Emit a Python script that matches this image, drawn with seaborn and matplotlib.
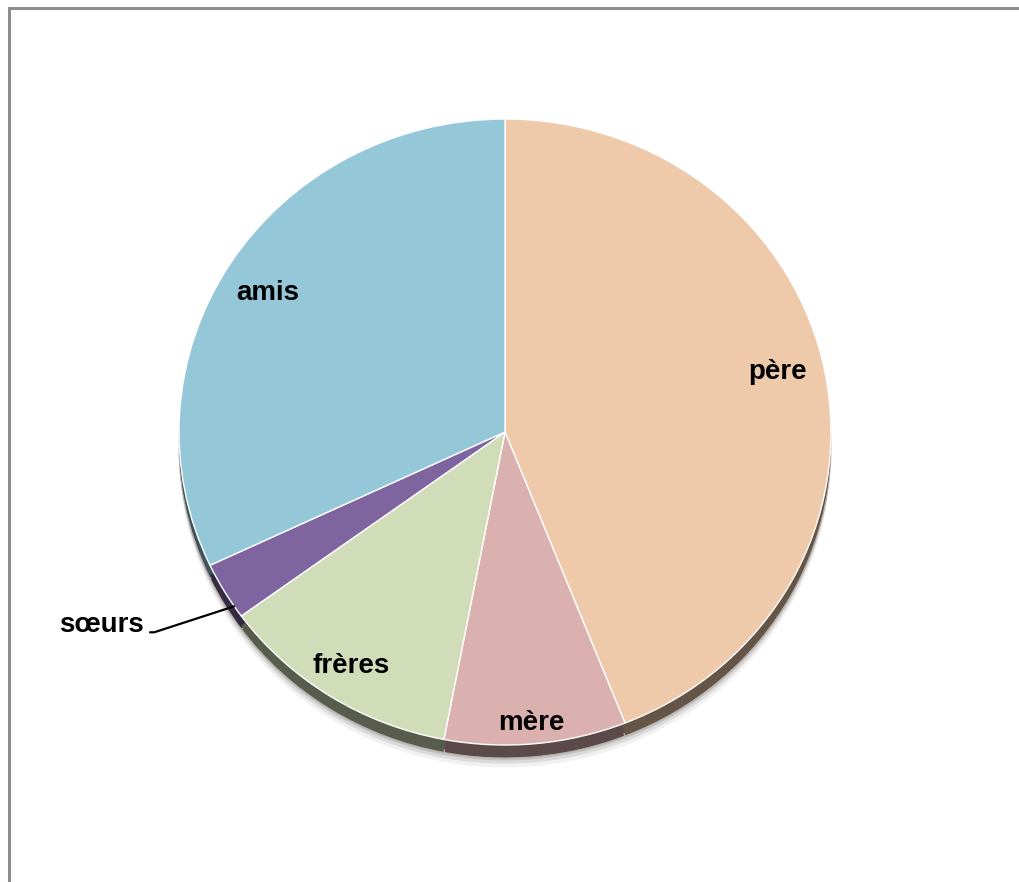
import numpy as np
import matplotlib
matplotlib.use("Agg")
import matplotlib.pyplot as plt
from matplotlib.patches import Rectangle
from matplotlib.colors import to_rgb
import seaborn as sns

# Share of each group (percent)
categories = ["père", "mère", "frères", "sœurs", "amis"]
values = [44, 9, 12, 3, 32]

slice_colors = ["#EECAAA", "#DBB1B0", "#D1DCB8", "#7F65A0", "#94C7D8"]
label_radius = [0.86, 0.93, 0.88, None, 0.85]
label_shift = [(-3, 10), (-2, -1), (0, -1), (0, 0), (-3, -4)]  # pixels

sns.set_theme(style="white")
plt.rcParams["font.family"] = ["Liberation Sans", "DejaVu Sans"]

W, H = 1019, 882
fig = plt.figure(figsize=(W / 100, H / 100), dpi=100)
ax = fig.add_axes([0, 0, 1, 1])

# pixel geometry of the pie face
cx, cy = 505, 432
rx, ry = 326, 313
depth = 13 / ry

def shade(c, f):
    r, g, b = to_rgb(c)
    return (r * f, g * f, b * f)

pie_kw = dict(startangle=90, counterclock=False, radius=1.0)

# soft drop shadow
for off, a in [(depth + 0.030, 0.10), (depth + 0.018, 0.18), (depth + 0.008, 0.25)]:
    ax.pie(values, colors=["#7a7a7a"] * len(values), center=(0, -off),
           wedgeprops=dict(linewidth=0, alpha=a), **pie_kw)

# side wall of the disc
ax.pie(values, colors=[shade(c, 0.42) for c in slice_colors],
       center=(0, -depth),
       wedgeprops=dict(linewidth=0.8, edgecolor="#b8b0a8"), **pie_kw)
for k in range(3):
    ax.pie(values, colors=[shade(c, 0.42) for c in slice_colors],
           center=(0, -depth * (k + 1) / 4),
           wedgeprops=dict(linewidth=0), **pie_kw)

# top face
wedges, _ = ax.pie(values, colors=slice_colors,
                   wedgeprops=dict(linewidth=1.0, edgecolor="white"), **pie_kw)

font = dict(fontsize=20, fontweight="bold", color="black")
for w, name, r, (sx, sy) in zip(wedges, categories, label_radius, label_shift):
    mid = np.deg2rad((w.theta1 + w.theta2) / 2)
    if r is not None:
        ax.text(r * np.cos(mid) + sx / rx, r * np.sin(mid) + sy / ry, name,
                ha="center", va="center", **font)
    else:
        t = np.deg2rad(w.theta2 - 0.2 * (w.theta2 - w.theta1))
        ax.annotate(name, xy=(np.cos(t), np.sin(t)),
                    xytext=((144 - cx) / rx, -(632 - cy) / ry),
                    ha="right", va="baseline", **font,
                    arrowprops=dict(arrowstyle="-", color="black", lw=1.6,
                                    relpos=(1.0, 0.22), shrinkA=2, shrinkB=0,
                                    connectionstyle="angle,angleA=0,angleB=18,rad=0"))

ax.set_aspect("auto")
ax.set_xlim(-cx / rx, (W - cx) / rx)
ax.set_ylim(-(H - cy) / ry, cy / ry)
ax.axis("off")

# chart area frame
fig.add_artist(Rectangle((9 / W, -0.2), 1.3, 1.2 - 8 / H, transform=fig.transFigure,
                         fill=False, edgecolor="#8c8c8c", linewidth=2.2))

fig.savefig("out.png", dpi=100, facecolor="white")
